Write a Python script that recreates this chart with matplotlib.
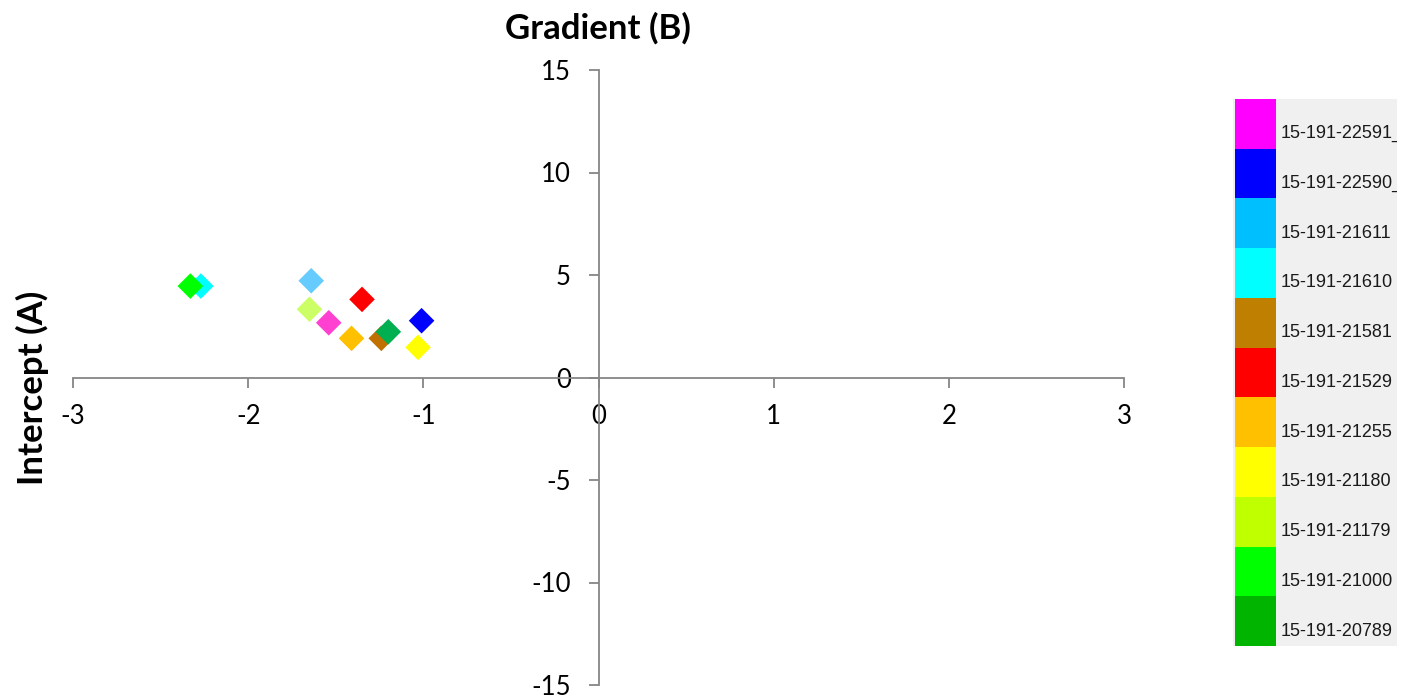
import matplotlib
matplotlib.use("Agg")
import matplotlib.pyplot as plt
from matplotlib.patches import Rectangle

plt.rcParams["axes.unicode_minus"] = False

# Data
series = ["15-191-22591_", "15-191-22590_", "15-191-21611", "15-191-21610", "15-191-21581",
          "15-191-21529", "15-191-21255", "15-191-21180", "15-191-21179", "15-191-21000",
          "15-191-20789"]
gradient = [-1.54, -1.01, -1.64, -2.27, -1.24, -1.35, -1.41, -1.03, -1.65, -2.33, -1.20]
intercept = [2.67, 2.77, 4.72, 4.46, 1.91, 3.81, 1.91, 1.47, 3.33, 4.46, 2.23]
marker_colors = ["#FF40D0", "#0000FF", "#66CCFF", "#00FFFF", "#C07000", "#FF0000",
                 "#FFC000", "#FFFF00", "#CCFF66", "#00FF00", "#00B050"]
legend_colors = ["#FF00FF", "#0000FF", "#00BFFF", "#00FFFF", "#BF7F00", "#FF0000",
                 "#FFC000", "#FFFF00", "#BFFF00", "#00FF00", "#00B400"]
x_ticks = [-3, -2, -1, 0, 1, 2, 3]
y_ticks = [-15, -10, -5, 0, 5, 10, 15]

fig = plt.figure(figsize=(14.1, 7.0), dpi=100)
ax = fig.add_axes([73/1410, 1-685/700, (1124-73)/1410, (685-70)/700])
ax.set_xlim(-3, 3)
ax.set_ylim(-15, 15)

# draw order: back to front so overlaps match
order = [3, 9, 2, 5, 8, 0, 6, 4, 10, 1, 7]
for i in order:
    ax.scatter(gradient[i], intercept[i], marker="D", s=170, color=marker_colors[i],
               edgecolors="none", zorder=3)

for s in ["top", "right"]:
    ax.spines[s].set_visible(False)
ax.spines["left"].set_position(("data", 0))
ax.spines["bottom"].set_position(("data", 0))
for s in ["left", "bottom"]:
    ax.spines[s].set_color("#868686")
    ax.spines[s].set_linewidth(1.3)
ax.set_xticks(x_ticks)
ax.set_yticks(y_ticks)
ax.tick_params(axis="both", colors="#868686", length=7, width=1.3, direction="out",
               labelcolor="black", labelsize=18.5)
for lab in ax.get_xticklabels() + ax.get_yticklabels():
    lab.set_fontfamily("Lato")
ax.tick_params(axis="x", pad=12)
ax.tick_params(axis="y", pad=13)

fig.text(598/1410, 1-28/700, "Gradient (B)", ha="center", va="center",
         fontsize=25, fontweight="bold", family="Lato")
fig.text(32/1410, 1-388/700, "Intercept (A)", ha="center", va="center", rotation=90,
         fontsize=25, fontweight="bold", family="Lato")

# Legend (manual)
W, H = 1410, 700
lx0, lx1, ly0, ly1 = 1233, 1397, 99, 646
bg = Rectangle((lx0/W, 1-ly1/H), (lx1-lx0)/W, (ly1-ly0)/H, transform=fig.transFigure,
               facecolor="#F0F0F0", edgecolor="none")
fig.patches.append(bg)
n = len(series)
bh = (ly1-ly0)/n
for k, (name, col) in enumerate(zip(series, legend_colors)):
    top = ly0 + k*bh
    r = Rectangle((1235/W, 1-(top+bh)/H), (1276-1235)/W, bh/H, transform=fig.transFigure,
                  facecolor=col, edgecolor="none")
    fig.patches.append(r)
    t = fig.text(1281/W, 1-(top+bh*0.70)/H, name, ha="left", va="center", fontsize=13,
                 family="Liberation Sans", color="#1a1a1a")
    t.set_clip_path(bg)
    t.set_clip_on(True)

fig.savefig("out.png", dpi=100)
